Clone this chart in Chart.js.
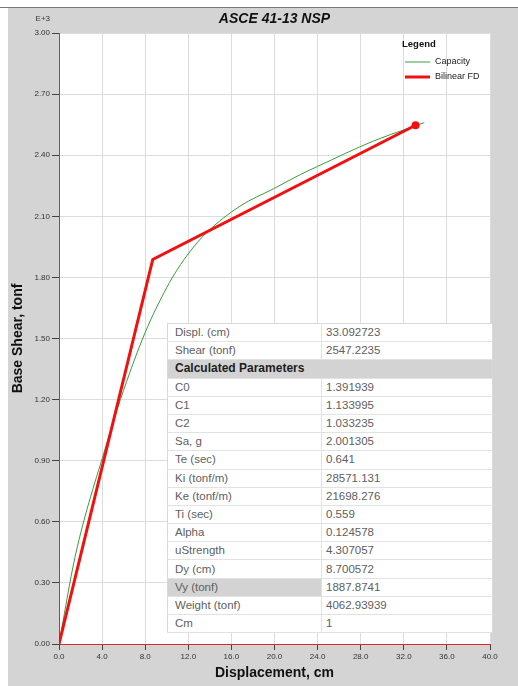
<!DOCTYPE html>
<html>
<head>
<meta charset="utf-8">
<title>ASCE 41-13 NSP</title>
<script src="https://cdn.jsdelivr.net/npm/chart.js@4/dist/chart.umd.min.js"></script>
<style>
  html, body { margin: 0; padding: 0; background: #fff; }
  #wrap { position: relative; width: 518px; height: 686px; }
  #cv { position: absolute; left: 0; top: 0; }
  #params {
    position: absolute; left: 167px; top: 323px; width: 326px;
    border-collapse: collapse; background: #fff;
    font-family: "Liberation Sans", Arial, sans-serif; font-size: 11.5px; color: #606060;
    border: 1px solid #d8d8d8;
  }
  #params td { height: 17.2px; padding: 0 0 0 7px; border-bottom: 1px solid #e2e2e2; white-space: nowrap; line-height: 17px; }
  #params td.lbl { width: 146px; border-right: 1px solid #e2e2e2; }
  #params td.val { padding-left: 4px; }
  #params tr.head td { background: #d3d3d3; color: #1e1e1e; font-weight: bold; font-size: 12px; }
  #params td.sel { background: #d3d3d3; }
</style>
</head>
<body>
<div id="wrap">
  <canvas id="cv" width="518" height="686"></canvas>
  <table id="params"></table>
</div>
<script>
(() => {
  // --- data (shear in E+3 tonf)
  const capacityDispl = [0, 1.5, 4.4, 5.7, 8.0, 10.0, 11.0, 12.2, 13.7, 16.8, 19.9, 22.4, 24.0, 29.2, 32.3, 33.9];
  const capacityShear = [0, 0.43, 0.98, 1.20, 1.53, 1.75, 1.84, 1.93, 2.02, 2.15, 2.235, 2.305, 2.345, 2.47, 2.53, 2.56];

  const bilinearDispl = [0, 8.700572, 33.092723];
  const bilinearShear = [0, 1.8878741, 2.5472235];

  const seriesNames = ["Capacity", "Bilinear FD"];

  const xMax = 40, xStep = 4;
  const yMax = 3.0, yStep = 0.3;

  const pointLabels = ["Displ. (cm)", "Shear (tonf)"];
  const pointValues = ["33.092723", "2547.2235"];
  const paramHeader = "Calculated Parameters";
  const paramLabels = ["C0", "C1", "C2", "Sa, g", "Te (sec)", "Ki (tonf/m)", "Ke (tonf/m)", "Ti (sec)",
    "Alpha", "uStrength", "Dy (cm)", "Vy (tonf)", "Weight (tonf)", "Cm"];
  const paramValues = ["1.391939", "1.133995", "1.033235", "2.001305", "0.641", "28571.131", "21698.276", "0.559",
    "0.124578", "4.307057", "8.700572", "1887.8741", "4062.93939", "1"];

  const W = 518, H = 686;
  const FONT = "'Liberation Sans', Arial, sans-serif";

  // --- parameter table
  const $tbl = document.getElementById("params");
  function addRow(lbl, val, sel) {
    const tr = document.createElement("tr");
    const a = document.createElement("td");
    a.className = "lbl" + (sel ? " sel" : "");
    a.textContent = lbl;
    const b = document.createElement("td");
    b.className = "val";
    b.textContent = val;
    tr.append(a, b);
    $tbl.appendChild(tr);
  }
  pointLabels.forEach((l, i) => addRow(l, pointValues[i]));
  const hr = document.createElement("tr");
  hr.className = "head";
  const hd = document.createElement("td");
  hd.colSpan = 2;
  hd.textContent = paramHeader;
  hr.appendChild(hd);
  $tbl.appendChild(hr);
  paramLabels.forEach((l, i) => addRow(l, paramValues[i], l === "Vy (tonf)"));

  // --- plugins
  const panelBg = {
    id: "panelBg",
    beforeDraw(chart) {
      const { ctx, chartArea: a } = chart;
      ctx.save();
      ctx.fillStyle = "#fff";
      ctx.fillRect(0, 0, W, H);
      ctx.fillStyle = "#d4d4d4";
      ctx.fillRect(8, 8, W - 8, H - 8);
      ctx.fillStyle = "#777";
      ctx.fillRect(0, 7, W, 1);
      ctx.fillStyle = "#fff";
      ctx.fillRect(a.left, a.top, a.right - a.left, a.bottom - a.top);
      ctx.restore();
    }
  };

  const headerText = {
    id: "headerText",
    afterDraw(chart) {
      const { ctx, chartArea: a } = chart;
      ctx.save();
      ctx.fillStyle = "#111";
      ctx.font = `italic bold 14px ${FONT}`;
      ctx.textAlign = "center";
      ctx.textBaseline = "middle";
      ctx.fillText("ASCE 41-13 NSP", (a.left + a.right) / 2, 19);
      ctx.font = `8px ${FONT}`;
      ctx.fillStyle = "#333";
      ctx.textAlign = "right";
      ctx.fillText("E+3", 50, 19);
      ctx.restore();
    }
  };

  const boxLegend = {
    id: "boxLegend",
    afterDraw(chart) {
      const { ctx } = chart;
      ctx.save();
      ctx.fillStyle = "#111";
      ctx.font = `bold 9.5px ${FONT}`;
      ctx.textBaseline = "middle";
      ctx.fillText("Legend", 402, 44);
      const order = [1, 0];
      order.forEach((di, k) => {
        const ds = chart.data.datasets[di];
        const y = 62 + k * 15;
        ctx.strokeStyle = ds.borderColor;
        ctx.lineWidth = ds.borderWidth;
        ctx.beginPath();
        ctx.moveTo(405, y);
        ctx.lineTo(430, y);
        ctx.stroke();
        ctx.fillStyle = "#222";
        ctx.font = `9px ${FONT}`;
        ctx.fillText(ds.label, 435, y);
      });
      ctx.restore();
    }
  };

  const toXY = (xs, ys) => xs.map((x, i) => ({ x, y: ys[i] }));

  new Chart(document.getElementById("cv"), {
    type: "line",
    data: {
      datasets: [
        {
          label: seriesNames[1],
          data: toXY(bilinearDispl, bilinearShear),
          borderColor: "#f01010",
          backgroundColor: "#f01010",
          borderWidth: 3,
          pointRadius: bilinearDispl.map((_, i) => (i === bilinearDispl.length - 1 ? 4 : 0)),
          pointBorderWidth: 0,
          tension: 0,
          order: 0
        },
        {
          label: seriesNames[0],
          data: toXY(capacityDispl, capacityShear),
          borderColor: "#3d9a3d",
          borderWidth: 1,
          pointRadius: 0,
          cubicInterpolationMode: "monotone",
          order: 1
        }
      ]
    },
    options: {
      responsive: false,
      animation: false,
      layout: { padding: { top: 33, right: 28, bottom: 0, left: 0 } },
      plugins: { legend: { display: false }, tooltip: { enabled: false }, title: { display: false } },
      scales: {
        x: {
          type: "linear",
          min: 0, max: xMax,
          afterFit: (s) => { s.height = 42; },
          border: { color: "#e02828", width: 1 },
          grid: { color: "#dcdcdc", tickColor: "#444", tickLength: 6 },
          ticks: {
            stepSize: xStep, color: "#333", padding: 2,
            font: { size: 8, family: FONT },
            maxRotation: 0,
            callback: (v) => Number(v).toFixed(1)
          },
          title: {
            display: true, text: "Displacement, cm", color: "#111",
            font: { size: 14, weight: "bold", family: FONT },
            padding: { top: 0, bottom: 4.5 }
          }
        },
        y: {
          min: 0, max: yMax,
          afterFit: (s) => { s.width = 59; },
          border: { color: "#e02828", width: 1 },
          grid: { color: "#dcdcdc", tickColor: "#444", tickLength: 7 },
          ticks: {
            stepSize: yStep, color: "#333", padding: 2,
            font: { size: 8, family: FONT },
            callback: (v) => Number(v).toFixed(2)
          },
          title: {
            display: true, text: "Base Shear, tonf", color: "#111",
            font: { size: 14, weight: "bold", family: FONT },
            padding: { top: 10, bottom: 0 }
          }
        }
      }
    },
    plugins: [panelBg, headerText, boxLegend]
  });
})();
</script>
</body>
</html>
